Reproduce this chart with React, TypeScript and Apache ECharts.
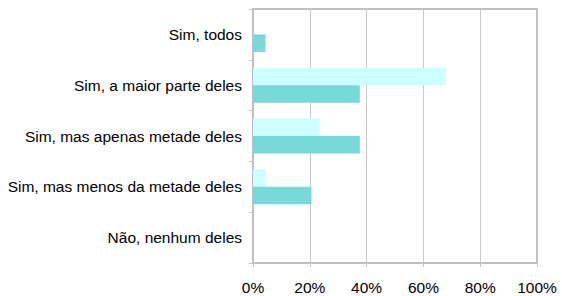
import React, { useEffect, useRef } from "react";
import * as echarts from "echarts";

const categories = [
  "Sim, todos",
  "Sim, a maior parte deles",
  "Sim, mas apenas metade deles",
  "Sim, mas menos da metade deles",
  "Não, nenhum deles",
];
const lightValues = [0, 68, 23.5, 4.4, 0];
const tealValues = [4.4, 37.6, 37.6, 20.6, 0];
const xTicks = [0, 20, 40, 60, 80, 100];

export default function App() {
  const ref = useRef<HTMLDivElement>(null);
  useEffect(() => {
    if (!ref.current) return;
    const chart = echarts.init(ref.current, null, { renderer: "svg" });
    const font = "'Liberation Sans', Arial, sans-serif";
    chart.setOption({
      animation: false,
      grid: {
        left: 253,
        right: 25,
        top: 9,
        bottom: 33,
        show: true,
        borderColor: "#c0c0c0",
        borderWidth: 2,
        containLabel: false,
      },
      xAxis: {
        type: "value",
        min: xTicks[0],
        max: xTicks[xTicks.length - 1],
        interval: 20,
        axisLine: { show: true, lineStyle: { color: "#c0c0c0", width: 2 } },
        axisTick: { show: true, length: 4, lineStyle: { color: "#c0c0c0", width: 1 } },
        splitLine: { show: true, lineStyle: { color: "#c8c8c8", width: 1 } },
        axisLabel: {
          formatter: "{value}%",
          color: "#000",
          fontFamily: font,
          fontSize: 15.5,
          margin: 16,
        },
      },
      yAxis: {
        type: "category",
        data: categories,
        inverse: true,
        axisLine: { show: true, lineStyle: { color: "#c0c0c0", width: 2 } },
        axisTick: { show: true, length: 4, lineStyle: { color: "#c0c0c0", width: 1 } },
        axisLabel: {
          color: "#000",
          fontFamily: font,
          fontSize: 15.5,
          margin: 11,
        },
      },
      series: [
        {
          type: "bar",
          name: "A",
          data: lightValues,
          itemStyle: { color: "#ccffff" },
          barGap: "0%",
          barCategoryGap: "31%",
        },
        {
          type: "bar",
          name: "B",
          data: tealValues,
          itemStyle: { color: "#78d9d9" },
          barGap: "0%",
          barCategoryGap: "31%",
        },
      ],
    });
    return () => chart.dispose();
  }, []);
  return (
    <div style={{ position: "fixed", left: 0, top: 0, width: 562, height: 296, background: "#fff" }}>
      <div ref={ref} style={{ width: 562, height: 296 }} />
    </div>
  );
}
